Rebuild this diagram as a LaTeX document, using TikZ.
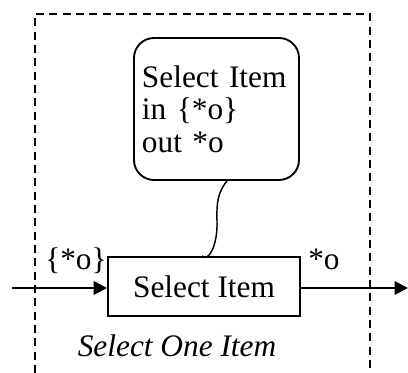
\documentclass[tikz,border=0pt]{standalone}
\usepackage{fontspec}
\setmainfont{Liberation Serif}
\usetikzlibrary{arrows.meta, positioning}

\begin{document}
\begin{tikzpicture}[x=0.75pt, y=-0.75pt,
    every node/.style={font=\fontsize{23.5}{24.5}\selectfont, inner sep=0pt},
    actbox/.style={draw, line width=1.4pt, minimum width=144pt, minimum height=44.25pt},
    callout/.style={draw, line width=1.4pt, rounded corners=15pt, minimum width=123.75pt,
                    minimum height=106.5pt, text width=111.75pt, align=left},
    flow/.style={line width=1.5pt, -{Triangle[length=10pt, width=10pt]}},
    frame/.style={line width=1.4pt, dash pattern=on 6pt off 4pt}]
  \useasboundingbox (0,0) rectangle (408,373);
  % dashed frame, open at the bottom
  \draw[frame] (35,373) -- (35,14) -- (370,14) -- (370,373);
  % activity box and its note
  \node[actbox] (select) at (204,286.5) {Select Item};
  \node[callout] (note) at (216.5,109) {Select Item\\in \{*o\}\\out *o};
  \draw[line width=1.1pt] ([xshift=7.9pt]note.south)
      .. controls +(-9pt,-11pt) and +(0pt,11pt) .. ++(-7.5pt,-33pt)
      .. controls +(0pt,-15pt) and +(5pt,-5pt) .. ([xshift=-1.5pt]select.north);
  % flows in and out
  \coordinate (src) at (12,288);
  \coordinate (dst) at (408,288);
  \draw[flow] (src) -- (src -| select.west);
  \draw[flow] (select.east |- dst) -- (dst);
  \node[anchor=base west] (inlab) at (45,270) {\{*o\}};
  \node[anchor=base west] (outlab) at (308,270) {*o};
  \node[anchor=base, font=\fontsize{23.5}{24.5}\selectfont\itshape] (title) at (177,357) {Select One Item};
\end{tikzpicture}
\end{document}
